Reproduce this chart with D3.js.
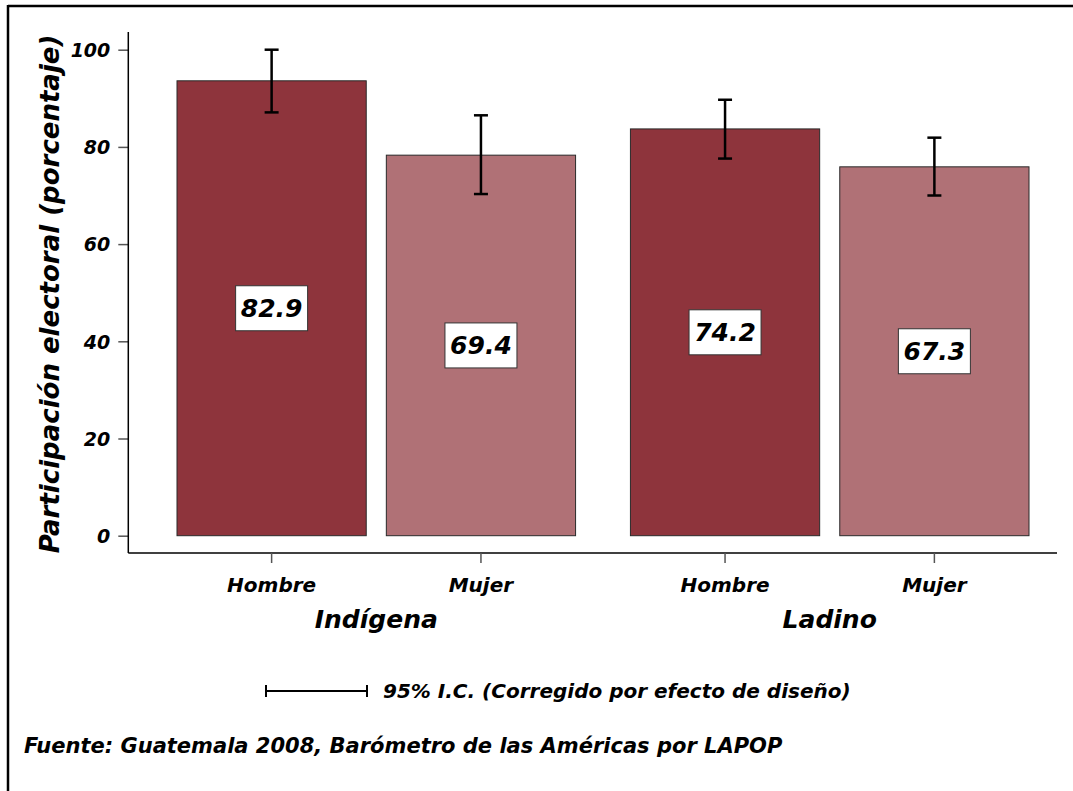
<!DOCTYPE html>
<html>
<head>
<meta charset="utf-8">
<script src="https://cdn.jsdelivr.net/npm/d3@7"></script>
<style>
  html, body { margin: 0; padding: 0; background: #fff; }
  svg { display: block; }
  text { font-family: "DejaVu Sans", sans-serif; font-weight: bold; font-style: italic; fill: #000; }
</style>
</head>
<body>
<script>
// ---- data ----
const groups = ["Indígena", "Ladino"];
const sexes = ["Hombre", "Mujer"];
const barValues = [93.6, 78.3, 83.7, 75.9];     // bar heights as drawn
const valueLabels = ["82.9", "69.4", "74.2", "67.3"]; // printed labels
const ciLow = [87.1, 70.3, 77.6, 70.0];
const ciHigh = [100.0, 86.5, 89.7, 81.9];
const yTicks = [0, 20, 40, 60, 80, 100];
const yTitle = "Participación electoral (porcentaje)";
const legendText = "95% I.C. (Corregido por efecto de diseño)";
const sourceText = "Fuente: Guatemala 2008, Barómetro de las Américas por LAPOP";

const rows = [];
groups.forEach((g, gi) => sexes.forEach((s, si) => {
  const i = gi * sexes.length + si;
  rows.push({ group: g, sex: s, value: barValues[i], label: valueLabels[i], lo: ciLow[i], hi: ciHigh[i] });
}));

const W = 1073, H = 791;
const colors = { Hombre: "#8E343C", Mujer: "#B07176" };

const svg = d3.select("body").append("svg").attr("width", W).attr("height", H);

// frame (top + left lines)
svg.append("line").attr("x1", 8).attr("x2", W).attr("y1", 6).attr("y2", 6).attr("stroke", "#000").attr("stroke-width", 2.5);
svg.append("line").attr("x1", 8).attr("x2", 8).attr("y1", 5).attr("y2", H).attr("stroke", "#000").attr("stroke-width", 2.5);

const y = d3.scaleLinear().domain([0, 100]).range([535.7, 49.7]);
const x0 = d3.scaleBand().domain(groups).range([177, 1029]).paddingInner(0.121).paddingOuter(0);
const x1 = d3.scaleBand().domain(sexes).range([0, x0.bandwidth()]).paddingInner(0.096).paddingOuter(0);

const axisX = 128.3, axisBottom = 553;

// y axis
const yAxis = svg.append("g").attr("transform", `translate(${axisX},0)`)
  .call(d3.axisLeft(y).tickValues(yTicks).tickSize(10).tickPadding(8).tickFormat(d3.format("d")));
yAxis.select(".domain").remove();
yAxis.selectAll(".tick line").attr("stroke", "#555").attr("stroke-width", 1.5);
yAxis.selectAll(".tick text").attr("font-size", 19).attr("font-family", "DejaVu Sans").attr("dy", "0.36em");
svg.append("line").attr("x1", axisX).attr("x2", axisX).attr("y1", 32).attr("y2", axisBottom).attr("stroke", "#000").attr("stroke-width", 1.5);
svg.append("line").attr("x1", axisX).attr("x2", 1057).attr("y1", axisBottom).attr("y2", axisBottom).attr("stroke", "#000").attr("stroke-width", 1.5);

// bars
const bx = d => x0(d.group) + x1(d.sex);
svg.append("g").selectAll("rect").data(rows).join("rect")
  .attr("x", bx).attr("width", x1.bandwidth())
  .attr("y", d => y(d.value)).attr("height", d => y(0) - y(d.value))
  .attr("fill", d => colors[d.sex]).attr("stroke", "#2a2a2a").attr("stroke-width", 1);

// error bars
const eb = svg.append("g").attr("stroke", "#000").attr("stroke-width", 2.5);
rows.forEach(d => {
  const cx = bx(d) + x1.bandwidth() / 2;
  eb.append("line").attr("x1", cx).attr("x2", cx).attr("y1", y(d.hi)).attr("y2", y(d.lo));
  eb.append("line").attr("x1", cx - 7).attr("x2", cx + 7).attr("y1", y(d.hi)).attr("y2", y(d.hi));
  eb.append("line").attr("x1", cx - 7).attr("x2", cx + 7).attr("y1", y(d.lo)).attr("y2", y(d.lo));
});

// value labels
const lg = svg.append("g");
rows.forEach(d => {
  const cx = bx(d) + x1.bandwidth() / 2;
  const cy = y(d.value / 2);
  lg.append("rect").attr("x", cx - 36).attr("y", cy - 22.5).attr("width", 72).attr("height", 45)
    .attr("fill", "#fff").attr("stroke", "#333").attr("stroke-width", 1);
  lg.append("text").attr("x", cx).attr("y", cy).attr("dy", "0.36em").attr("text-anchor", "middle")
    .attr("font-size", 25).text(d.label);
});

// x ticks and labels
rows.forEach(d => {
  const cx = bx(d) + x1.bandwidth() / 2;
  svg.append("line").attr("x1", cx).attr("x2", cx).attr("y1", axisBottom).attr("y2", axisBottom + 10)
    .attr("stroke", "#555").attr("stroke-width", 1.5);
  svg.append("text").attr("x", cx).attr("y", 592).attr("text-anchor", "middle").attr("font-size", 20).text(d.sex);
});
groups.forEach(g => {
  svg.append("text").attr("x", x0(g) + x0.bandwidth() / 2).attr("y", 628).attr("text-anchor", "middle")
    .attr("font-size", 25).text(g);
});

// y title
svg.append("text").attr("transform", "translate(59,294) rotate(-90)").attr("text-anchor", "middle")
  .attr("font-size", 26).text(yTitle);

// legend
const leg = svg.append("g").attr("stroke", "#000").attr("stroke-width", 2);
leg.append("line").attr("x1", 266).attr("x2", 367).attr("y1", 691).attr("y2", 691);
leg.append("line").attr("x1", 266).attr("x2", 266).attr("y1", 685).attr("y2", 697);
leg.append("line").attr("x1", 367).attr("x2", 367).attr("y1", 685).attr("y2", 697);
svg.append("text").attr("x", 383).attr("y", 691).attr("dy", "0.36em")
  .attr("font-size", 20).text(legendText);

// source
svg.append("text").attr("x", 24).attr("y", 745).attr("dy", "0.36em")
  .attr("font-size", 21).text(sourceText);
</script>
</body>
</html>
